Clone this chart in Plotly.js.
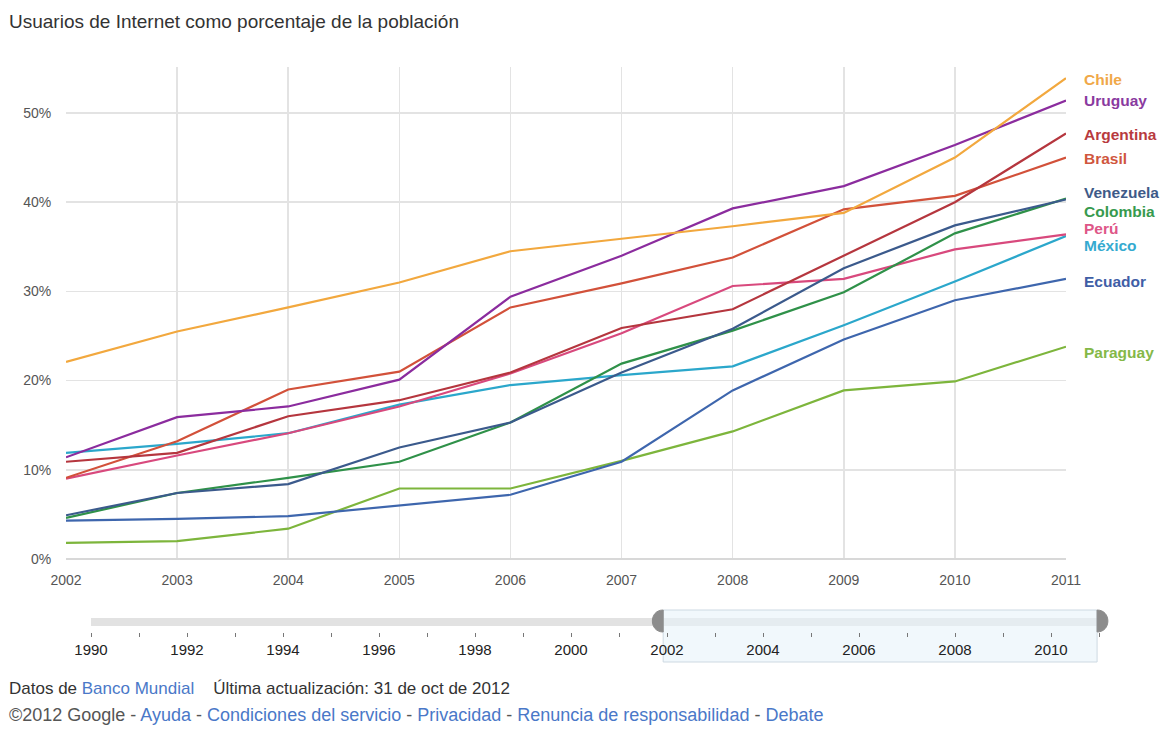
<!DOCTYPE html>
<html>
<head>
<meta charset="utf-8">
<script src="https://cdn.plot.ly/plotly-3.0.1.min.js"></script>
<style>
  html, body { margin: 0; padding: 0; background: #fff; }
  #chart { width: 1174px; height: 732px; }
</style>
</head>
<body>
<div id="chart"></div>
<script>
// ---- data ----
const years = [2002, 2003, 2004, 2005, 2006, 2007, 2008, 2009, 2010, 2011];
const countries = ["Chile", "Uruguay", "Argentina", "Brasil", "Venezuela", "Colombia", "Perú", "México", "Ecuador", "Paraguay"];
const chile     = [22.1, 25.5, 28.2, 31.0, 34.5, 35.9, 37.3, 38.8, 45.0, 53.9];
const uruguay   = [11.4, 15.9, 17.1, 20.1, 29.4, 34.0, 39.3, 41.8, 46.4, 51.4];
const argentina = [10.9, 11.9, 16.0, 17.8, 20.9, 25.9, 28.0, 34.0, 40.0, 47.7];
const brasil    = [9.1, 13.2, 19.0, 21.0, 28.2, 30.9, 33.8, 39.2, 40.7, 45.0];
const venezuela = [4.9, 7.4, 8.4, 12.5, 15.3, 20.9, 25.8, 32.6, 37.4, 40.3];
const colombia  = [4.6, 7.4, 9.1, 10.9, 15.3, 21.9, 25.6, 29.9, 36.5, 40.4];
const peru      = [9.0, 11.6, 14.1, 17.1, 20.8, 25.3, 30.6, 31.4, 34.7, 36.4];
const mexico    = [11.9, 12.9, 14.1, 17.3, 19.5, 20.6, 21.6, 26.2, 31.1, 36.2];
const ecuador   = [4.3, 4.5, 4.8, 6.0, 7.2, 10.9, 18.9, 24.6, 29.0, 31.4];
const paraguay  = [1.8, 2.0, 3.4, 7.9, 7.9, 11.0, 14.3, 18.9, 19.9, 23.8];
const yTickVals = [0, 10, 20, 30, 40, 50];
const yTickText = ["0%", "10%", "20%", "30%", "40%", "50%"];
const timelineYears = [1990,1991,1992,1993,1994,1995,1996,1997,1998,1999,2000,2001,2002,2003,2004,2005,2006,2007,2008,2009,2010,2011];
const timelineLabels = ["1990","","1992","","1994","","1996","","1998","","2000","","2002","","2004","","2006","","2008","","2010",""];

// ---- styles ----
const series = [chile, uruguay, argentina, brasil, venezuela, colombia, peru, mexico, ecuador, paraguay];
const colors = ["#f2a83e", "#8b2c9e", "#b5363e", "#d2513a", "#3b5a8c", "#2f9149", "#d8497d", "#2ba7cb", "#3e66ad", "#7db53c"];
const labelColors = ["#f0a848", "#8a3aa0", "#b83a3e", "#d0563e", "#3e5a88", "#379a4e", "#de5688", "#35aad0", "#3f5ea6", "#84b847"];
const labelY = [53.7, 51.4, 47.6, 44.9, 41.1, 39.0, 37.0, 35.1, 31.1, 23.2];
const FONT = "Arial, 'Liberation Sans', Helvetica, sans-serif";

// pixel geometry helpers
const W = 1174, H = 732, ML = 66, MR = 60, MT = 67, MB = 67;
const PW = W - ML - MR, PH = H - MT - MB;
const py = p => (H - MB - p) / PH;     // pixel y -> paper y
const pxp = p => (p - ML) / PW;        // pixel x -> paper x

const traces = series.map((s, i) => ({
  x: years, y: s, type: "scatter", mode: "lines", name: countries[i],
  line: { color: colors[i], width: 2.2 }, hoverinfo: "skip"
})).reverse();

// timeline axis mapping (1990 at pixel ~91, 48 px/year)
const x2lo = 1990 - (91 - ML) / 48;
const x2hi = x2lo + PW / 48;
const selStart = years[0] - 0.08;
const selEnd = years[years.length - 1] - 0.04;

const annotations = countries.map((c, i) => ({
  x: years[years.length - 1], y: labelY[i], xref: "x", yref: "y",
  xanchor: "left", yanchor: "middle", xshift: 16, showarrow: false,
  text: "<b>" + c + "</b>", font: { family: FONT, size: 15.5, color: labelColors[i] }
}));

const LINK = "#4a78c8";
annotations.push({
  xref: "paper", yref: "paper", x: pxp(7), y: py(688), xanchor: "left", yanchor: "middle",
  showarrow: false, align: "left",
  text: "Datos de <span style='color:" + LINK + "'>Banco Mundial</span>&nbsp;&nbsp;&nbsp;&nbsp;Última actualización: 31 de oct de 2012",
  font: { family: FONT, size: 17, color: "#333" }
});
annotations.push({
  xref: "paper", yref: "paper", x: pxp(7), y: py(715), xanchor: "left", yanchor: "middle",
  showarrow: false, align: "left",
  text: "©2012 Google - <span style='color:" + LINK + "'>Ayuda</span> - <span style='color:" + LINK + "'>Condiciones del servicio</span> - <span style='color:" + LINK + "'>Privacidad</span> - <span style='color:" + LINK + "'>Renuncia de responsabilidad</span> - <span style='color:" + LINK + "'>Debate</span>",
  font: { family: FONT, size: 18, color: "#555" }
});

const shapes = [
  // timeline bar
  { type: "rect", xref: "x2", yref: "paper", x0: timelineYears[0], x1: timelineYears[timelineYears.length - 1],
    y0: py(626), y1: py(618), fillcolor: "#e2e2e2", line: { width: 0 }, layer: "below" },
  // selection window
  { type: "rect", xref: "x2", yref: "paper", x0: selStart, x1: selEnd, layer: "below",
    y0: py(662), y1: py(610), fillcolor: "rgba(232,243,250,0.6)", line: { color: "#cdd9e2", width: 1 } },
  // handles
  { type: "path", xref: "x2", yref: "paper",
    path: `M ${selStart},${py(610)} C ${selStart - 0.3},${py(610)} ${selStart - 0.3},${py(632)} ${selStart},${py(632)} Z`,
    fillcolor: "#8c8c8c", line: { color: "#8c8c8c", width: 1 } },
  { type: "path", xref: "x2", yref: "paper",
    path: `M ${selEnd},${py(610)} C ${selEnd + 0.3},${py(610)} ${selEnd + 0.3},${py(632)} ${selEnd},${py(632)} Z`,
    fillcolor: "#8c8c8c", line: { color: "#8c8c8c", width: 1 } }
];

const layout = {
  width: W, height: H,
  margin: { l: ML, r: MR, t: MT, b: MB },
  paper_bgcolor: "#fff", plot_bgcolor: "#fff",
  showlegend: false, hovermode: false,
  font: { family: FONT, color: "#444" },
  title: {
    text: "Usuarios de Internet como porcentaje de la población",
    xref: "container", yref: "container", x: 9 / W, y: 1 - 21 / H,
    xanchor: "left", yanchor: "middle",
    font: { family: FONT, size: 19, color: "#333" }
  },
  xaxis: {
    domain: [0, 1000 / PW], range: [years[0], years[years.length - 1]],
    tickvals: years, ticktext: years.map(String),
    showgrid: true, gridcolor: "#e3e3e3", gridwidth: 1.5,
    zeroline: false, showline: false,
    ticks: "outside", ticklen: 8, tickcolor: "rgba(0,0,0,0)",
    tickfont: { family: FONT, size: 14, color: "#555" }, fixedrange: true
  },
  yaxis: {
    domain: [py(559), 1], range: [0, 55.15],
    tickvals: yTickVals, ticktext: yTickText,
    showgrid: true, gridcolor: "#e3e3e3", gridwidth: 1.5,
    zeroline: true, zerolinecolor: "#d8d8d8", zerolinewidth: 1.5, showline: false,
    ticks: "outside", ticklen: 11, tickcolor: "rgba(0,0,0,0)",
    tickfont: { family: FONT, size: 14, color: "#555" }, fixedrange: true
  },
  xaxis2: {
    anchor: "y2", domain: [0, 1], range: [x2lo, x2hi],
    tickvals: timelineYears, ticktext: timelineLabels,
    showgrid: false, zeroline: false, showline: false,
    ticks: "outside", ticklen: 4, tickwidth: 1, tickcolor: "#777",
    tickfont: { family: FONT, size: 15, color: "#222" }, fixedrange: true
  },
  yaxis2: {
    domain: [py(632), py(612)], range: [0, 1], visible: false, fixedrange: true
  },
  shapes: shapes,
  annotations: annotations
};

traces.push({ x: [], y: [], xaxis: "x2", yaxis: "y2", type: "scatter", mode: "lines", hoverinfo: "skip" });

Plotly.newPlot("chart", traces, layout, { displayModeBar: false, staticPlot: true });
</script>
</body>
</html>
